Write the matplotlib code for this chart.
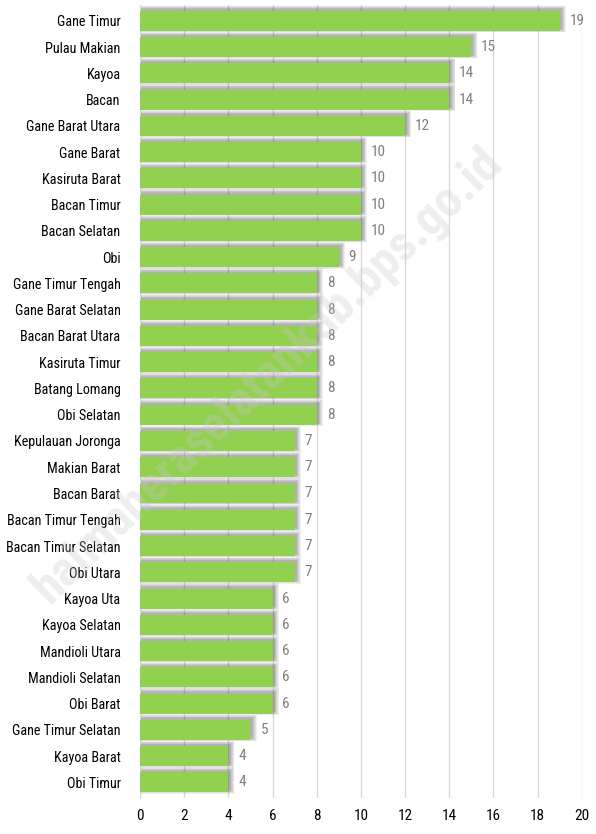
import matplotlib
matplotlib.use("Agg")
import matplotlib.pyplot as plt
from matplotlib import font_manager

names = ["Gane Timur", "Pulau Makian", "Kayoa", "Bacan", "Gane Barat Utara",
         "Gane Barat", "Kasiruta Barat", "Bacan Timur", "Bacan Selatan", "Obi",
         "Gane Timur Tengah", "Gane Barat Selatan", "Bacan Barat Utara",
         "Kasiruta Timur", "Batang Lomang", "Obi Selatan", "Kepulauan Joronga",
         "Makian Barat", "Bacan Barat", "Bacan Timur Tengah", "Bacan Timur Selatan",
         "Obi Utara", "Kayoa Uta", "Kayoa Selatan", "Mandioli Utara",
         "Mandioli Selatan", "Obi Barat", "Gane Timur Selatan", "Kayoa Barat",
         "Obi Timur"]
values = [19, 15, 14, 14, 12, 10, 10, 10, 10, 9, 8, 8, 8, 8, 8, 8,
          7, 7, 7, 7, 7, 7, 6, 6, 6, 6, 6, 5, 4, 4]
xticks = [0, 2, 4, 6, 8, 10, 12, 14, 16, 18, 20]

avail = {f.name for f in font_manager.fontManager.ttflist}
fam = [f for f in ["Roboto Condensed", "Liberation Sans Narrow", "DejaVu Sans Condensed"] if f in avail]
plt.rcParams['font.family'] = fam + ['DejaVu Sans']

fig = plt.figure(figsize=(5.96, 8.34), dpi=100)
ax = fig.add_axes([0.235, 0.043, 0.741, 0.951])

ys = list(range(len(names)))
h = 0.76
# soft shadow: layered translucent bars offset up/right
for k in range(6):
    ax.barh([y - 0.07 for y in ys], [v + 0.1 + 0.035 * k for v in values],
            height=h + 0.05 * k, left=0, color='#505050', alpha=0.09,
            zorder=2)
ax.barh(ys, values, height=h, color='#92D050', zorder=3)

for y, v in zip(ys, values):
    ax.text(v + 0.45, y, str(v), va='center', ha='left', fontsize=11,
            color='#7F7F7F', zorder=4)

ax.set_yticks(ys)
ax.set_yticklabels(names, fontsize=10.2)
ax.set_ylim(len(names) - 0.4, -0.6)
ax.set_xlim(0, 20)
ax.set_xticks(xticks)
ax.tick_params(axis='x', labelsize=11, length=0, pad=8)
ax.tick_params(axis='y', length=0, pad=14)
ax.xaxis.grid(True, color='#D9D9D9', linewidth=1, zorder=0)
ax.set_axisbelow(True)
for s in ax.spines.values():
    s.set_visible(False)
ax.spines['left'].set_visible(True)
ax.spines['left'].set_color('#D9D9D9')

fig.text(0.45, 0.55, "halmaheraselatankab.bps.go.id", rotation=44,
         fontsize=36, color='#C8C8C8', alpha=0.3, fontweight='bold',
         ha='center', va='center', zorder=1)

fig.savefig("out.png", dpi=100)
